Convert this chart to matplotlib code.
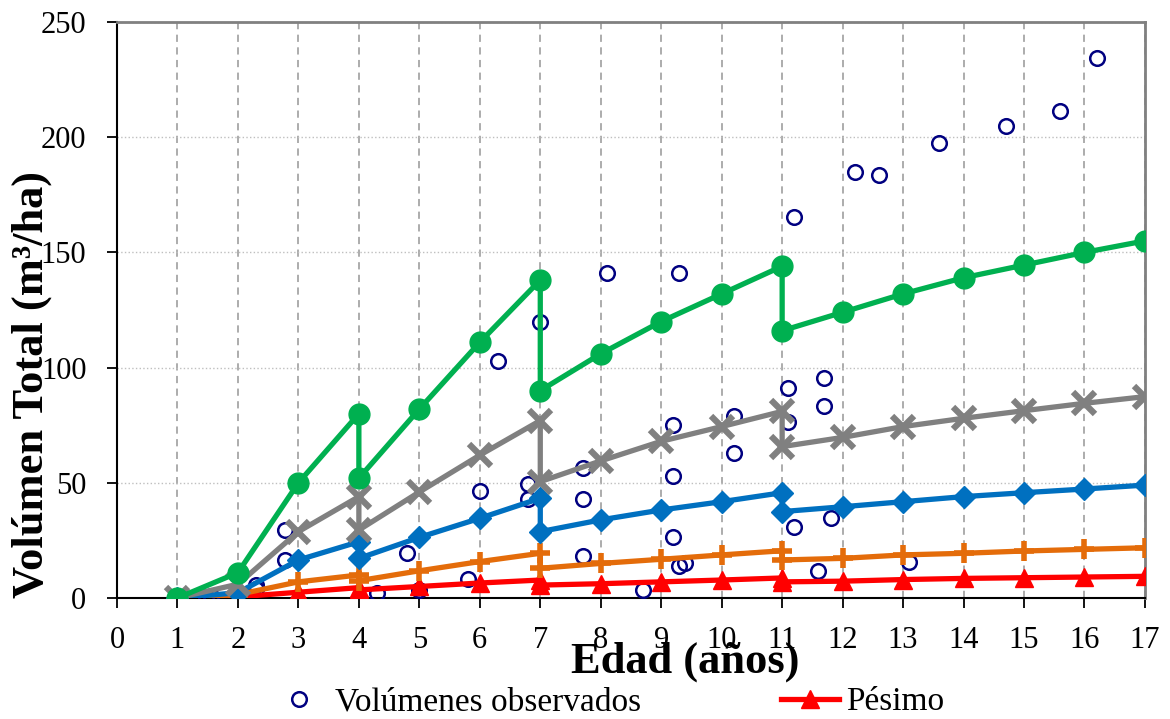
import matplotlib
matplotlib.use('Agg')
import matplotlib.pyplot as plt
from matplotlib.lines import Line2D

plt.rcParams['font.family'] = ['Liberation Serif', 'DejaVu Serif']

# Modelled volume curves (thinning at ages 4, 7 and 11 gives the vertical drops)
edad = [1, 2, 3, 4, 4, 5, 6, 7, 7, 8, 9, 10, 11, 11, 12, 13, 14, 15, 16, 17]
pesimo = [0, 0.5, 2.5, 4.5, 3.5, 5, 6.5, 7.8, 5.6, 6.2, 7, 7.8, 8.7, 7, 7.3, 8, 8.5, 8.8, 9.1, 9.4]
naranja = [0, 1.5, 7, 10, 7.5, 11.8, 15.8, 19.4, 12.9, 15, 16.8, 18.7, 20.5, 16.5, 17.2, 18.7, 19.4, 20.4, 21.1, 21.8]
azul = [0, 2.3, 16.5, 24.4, 17.2, 26.3, 34.6, 43.3, 28.8, 33.9, 38.2, 41.8, 45.7, 37.5, 39.6, 41.8, 44, 45.7, 47.3, 49]
gris = [0, 6, 28.8, 44, 29.5, 46, 62, 77, 50.5, 59.5, 68, 74.4, 81, 65.7, 69.7, 74.4, 78, 81.3, 84.5, 87.4]
verde = [0, 11, 50, 80, 52, 82, 111, 138, 90, 106, 120, 132, 144, 116, 124, 132, 139, 144.5, 150, 155]

# Observed plot volumes
obs_x = [1.48, 1.56, 2.3, 2.3, 2.78, 2.78, 4.3, 4.8, 5.0, 5.8, 6.0, 6.3, 6.8, 6.8, 7.0,
         7.7, 7.7, 7.7, 8.1, 8.7, 9.2, 9.2, 9.2, 9.3, 9.4, 9.3, 10.2, 10.2, 11.1, 11.1,
         11.2, 11.2, 11.6, 11.7, 11.7, 11.8, 12.2, 12.6, 13.1, 13.6, 14.7, 15.6, 16.2]
obs_y = [0.6, 0.9, 5.6, 3.8, 29.5, 16.5, 2.2, 19.5, 3.5, 8.2, 46.4, 103, 49.5, 43, 120,
         56.4, 43, 18.2, 141, 3.5, 75, 53, 26.5, 13.9, 15, 141, 79, 63, 91, 76.4,
         30.8, 165.4, 11.7, 95.5, 83.3, 34.7, 184.8, 183.6, 15.6, 197.3, 204.9, 211.4, 234.5]

fig = plt.figure(figsize=(11.7, 7.19), dpi=100)
ax = fig.add_axes([0.1, 0.1683, 0.8786, 0.8011])

# === SERIES ===
ax.plot(obs_x, obs_y, 'o', ms=10.5, mfc='none', mec='#000080', mew=1.8, zorder=3)
ax.plot(edad, pesimo, '-^', color='#FF0000', lw=3.8, ms=13, zorder=4)
ax.plot(edad, naranja, '-+', color='#E46C0A', lw=3.8, ms=15, mew=4, zorder=5)
ax.plot(edad, azul, '-D', color='#0070C0', lw=3.8, ms=11, zorder=6)
ax.plot(edad, gris, '-x', color='#808080', lw=3.8, ms=16, mew=4.5, zorder=7)
ax.plot(edad, verde, '-o', color='#00B050', lw=3.8, ms=15, zorder=8)

# === AXES ===
ax.set_xlim(0, 17)
ax.set_ylim(0, 250)
ax.set_xticks(range(0, 18))
ax.set_yticks(range(0, 251, 50))
ax.tick_params(axis='both', labelsize=22, length=7, width=1.3, direction='out')
ax.tick_params(axis='x', pad=13)
ax.tick_params(axis='y', pad=15)

ax.xaxis.grid(True, color='#A6A6A6', lw=1.3, ls=(0, (4, 3)))
ax.yaxis.grid(True, color='#BFBFBF', lw=1.0, ls=':')
ax.set_axisbelow(True)

for side in ['left', 'bottom']:
    ax.spines[side].set_color('black')
    ax.spines[side].set_linewidth(1.5)
for side in ['top', 'right']:
    ax.spines[side].set_color('#808080')
    ax.spines[side].set_linewidth(2)

fig.text(685 / 1170, 1 - 662 / 719, 'Edad (años)', fontsize=32, fontweight='bold',
         ha='center', va='center')
fig.text(32 / 1170, 1 - 385 / 719, 'Volúmen Total (m³/ha)', fontsize=32, fontweight='bold',
         ha='center', va='center', rotation=90)

# === LEGEND (only the first row is visible) ===
handles = [
    Line2D([], [], ls='none', marker='o', ms=10.5, mfc='none', mec='#000080', mew=1.8),
    Line2D([], [], color='#FF0000', lw=3.8, marker='^', ms=13),
]
fig.legend(handles, ['Volúmenes observados', 'Pésimo'], ncol=2, frameon=False,
           fontsize=24, loc='center', bbox_to_anchor=(607 / 1170, 1 - 702 / 719),
           handlelength=1.75, handletextpad=0.2, columnspacing=4.2, borderpad=0)

plt.savefig('out.png', dpi=100)
